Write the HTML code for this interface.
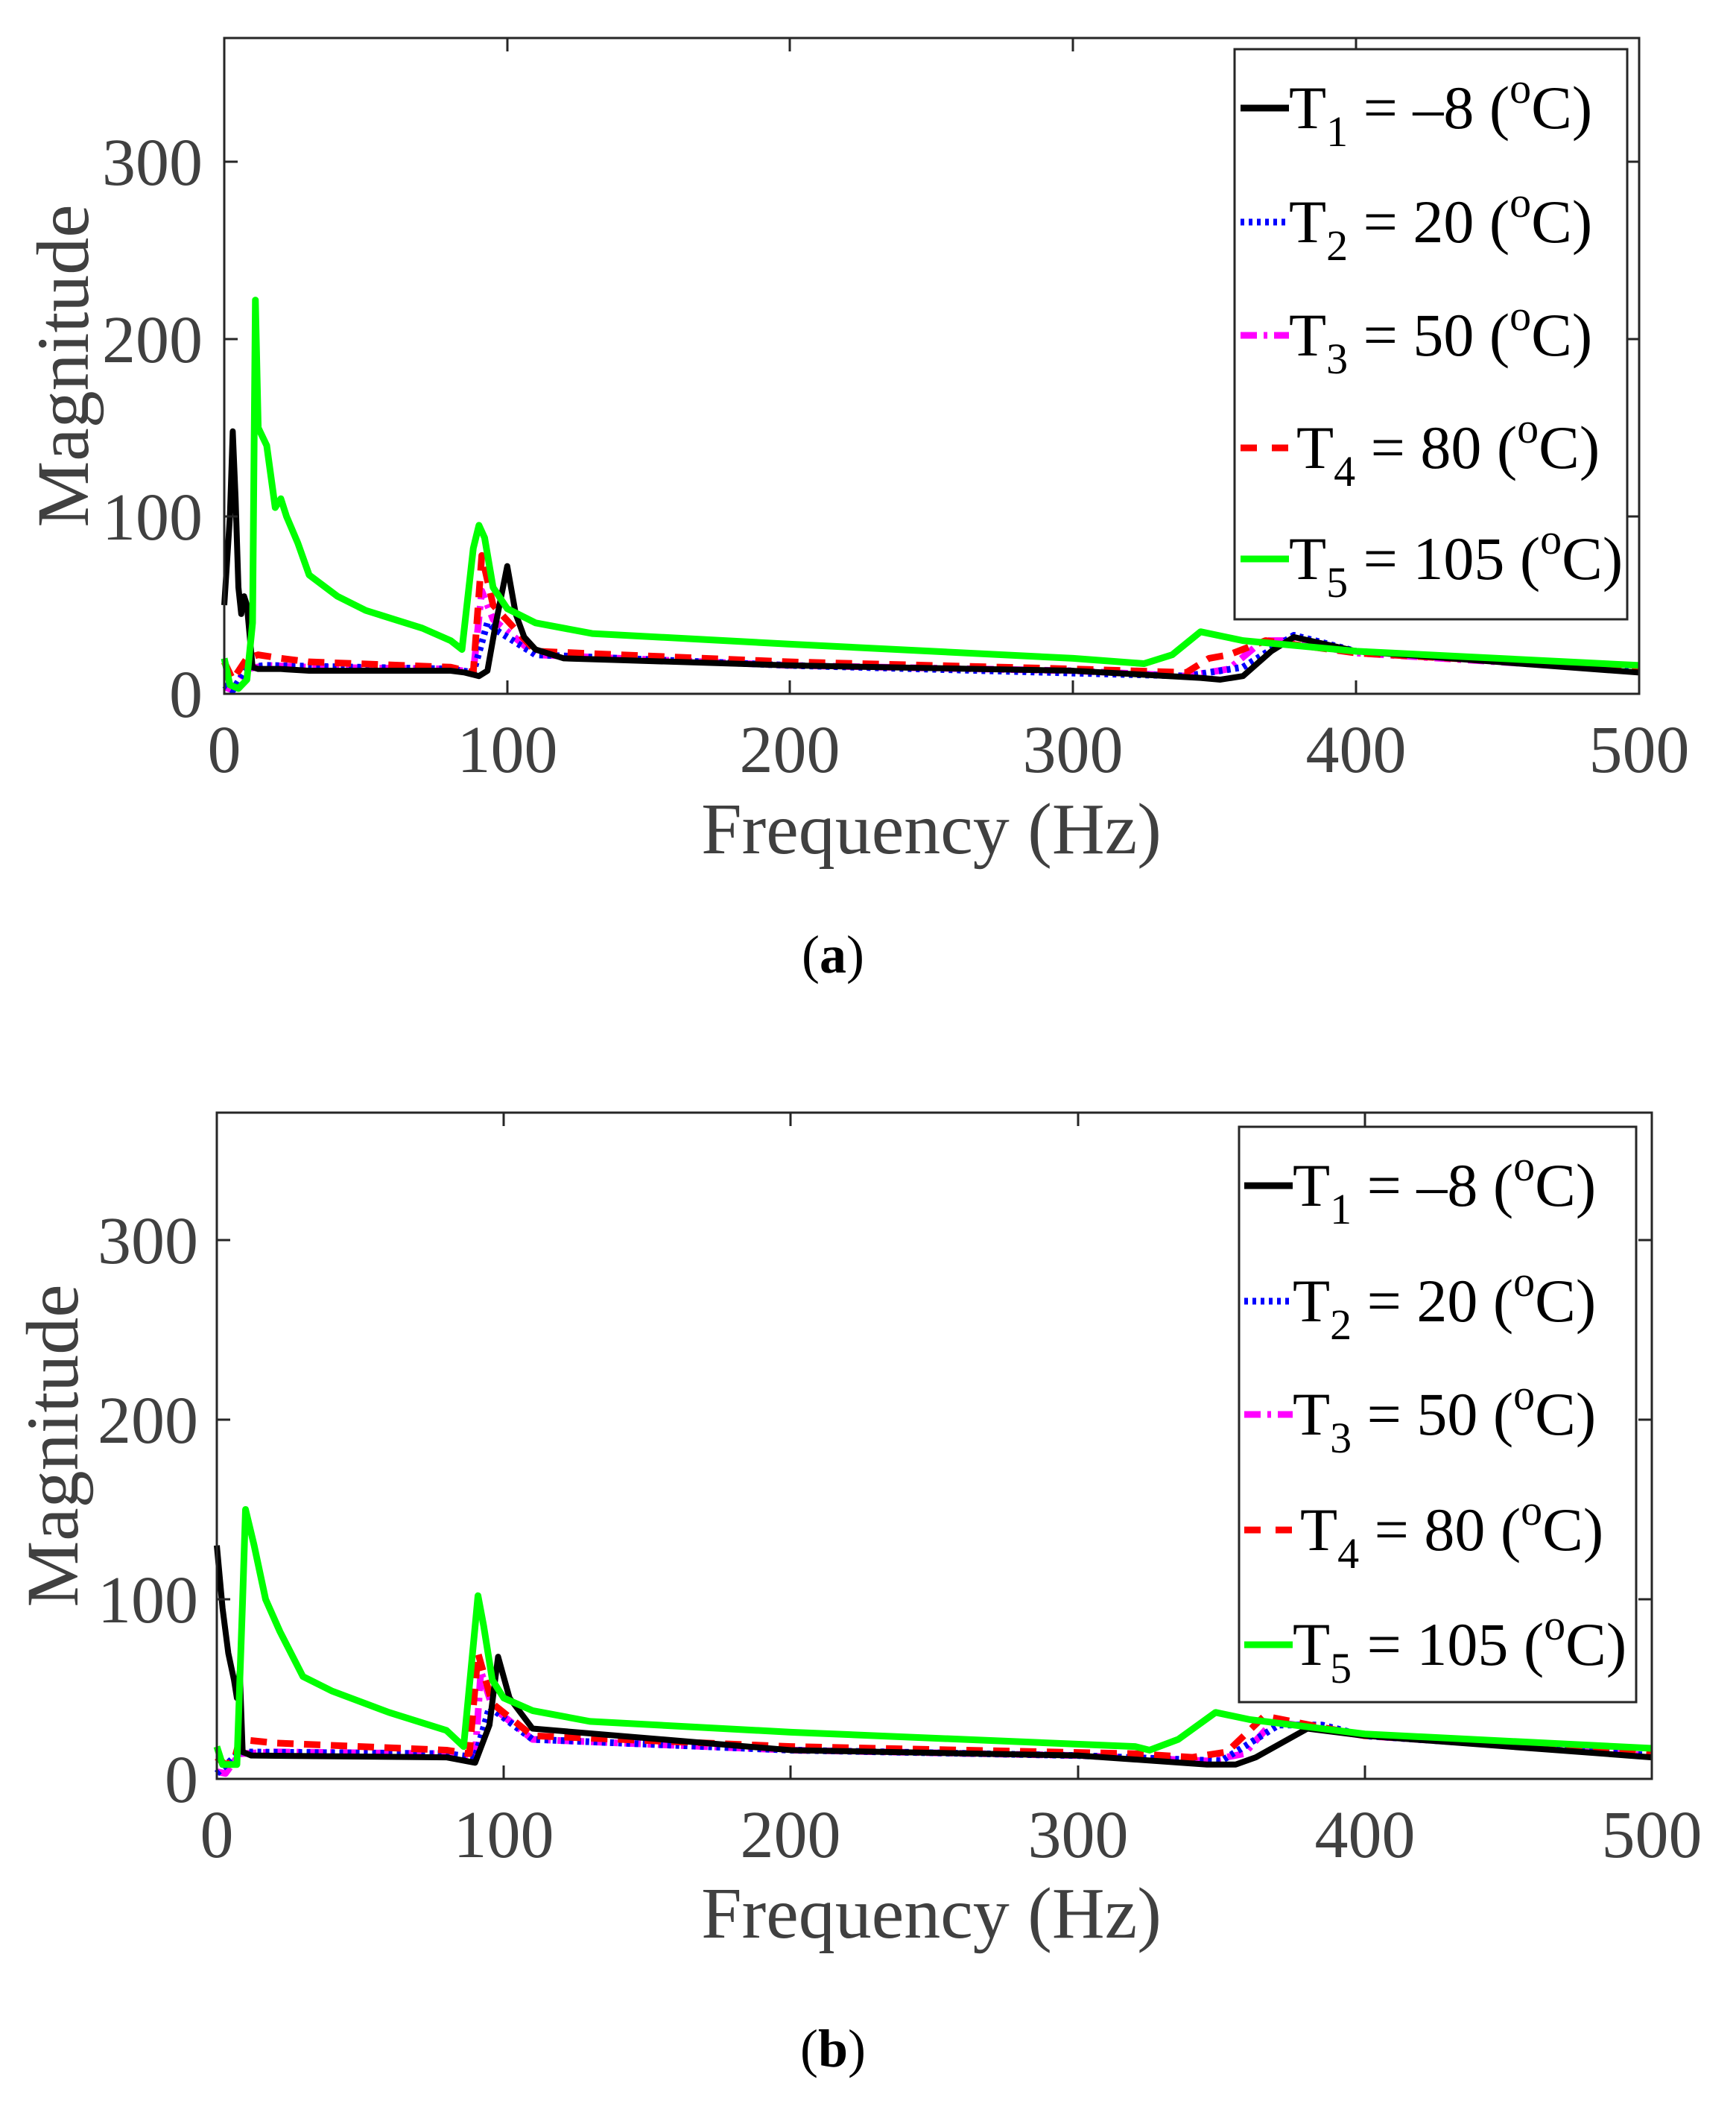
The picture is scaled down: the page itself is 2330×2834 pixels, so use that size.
<!DOCTYPE html>
<html><head><meta charset="utf-8"><style>
html,body{margin:0;padding:0;background:#fff}
svg{display:block}
text{font-family:"Liberation Serif",serif}
</style></head><body>
<svg width="2330" height="2834" viewBox="0 0 2330 2834" xmlns="http://www.w3.org/2000/svg">
<rect width="2330" height="2834" fill="#fff"/>

<!-- ============ PLOT A ============ -->
<g transform="translate(301,931) scale(3.798,-2.38)" fill="none" stroke-linejoin="round">
<polyline vector-effect="non-scaling-stroke" stroke="#ff00ff" stroke-width="9" stroke-dasharray="22 9 5 9" points="0,4 3,2 8,14 15,16 30,15 80,14 88,12 91,58 95,42 110,22 200,16 300,13 340,10 355,14 367,30 375,30 400,23 500,13"/>
<polyline vector-effect="non-scaling-stroke" stroke="#0000ff" stroke-width="9" stroke-dasharray="5 6" points="0,5 3,2 8,15 15,16 80,14 88,12 93,40 97,35 110,22 200,16 340,10 360,15 378,33 400,24 500,14"/>
<polyline vector-effect="non-scaling-stroke" stroke="#ff0000" stroke-width="9" stroke-dasharray="22 14" points="0,18 3,8 8,20 12,22 20,20 30,18 80,15 88,12 91,78 95,50 110,24 200,18 300,14 340,12 348,20 355,22 368,30 400,23 500,14"/>
<polyline vector-effect="non-scaling-stroke" stroke="#000" stroke-width="8" points="0,50 2,100 3,148 4,110 5,60 6,45 7,55 8,50 10,15 12,14 20,14 30,13 80,13 85,12 90,10 93,13 96,40 100,72 103,45 106,32 110,25 120,20 200,16 300,13 345,9 352,8 360,10 370,24 378,32 400,24 500,12"/>
<polyline vector-effect="non-scaling-stroke" stroke="#00ff00" stroke-width="9" points="0,20 2,5 5,3 8,8 10,40 11,222 12,150 15,140 18,105 20,110 22,100 26,85 30,67 40,55 50,47 60,42 70,37 80,30 84,25 88,82 90,95 92,88 95,60 100,48 110,40 130,34 200,28 300,20 325,17 335,22 345,35 360,30 400,24 500,16"/>
</g>
<g stroke="#262626" stroke-width="3" fill="none">
<rect x="301" y="51" width="1899" height="880"/>
<path d="M301,217h18M301,455h18M301,693h18M2200,217h-18M2200,455h-18M2200,693h-18
M681,931v-18M1060,931v-18M1440,931v-18M1820,931v-18M681,51v18M1060,51v18M1440,51v18M1820,51v18"/>
</g>
<g fill="#404040" font-size="90">
<text x="272" y="248" text-anchor="end">300</text>
<text x="272" y="486" text-anchor="end">200</text>
<text x="272" y="724" text-anchor="end">100</text>
<text x="272" y="962" text-anchor="end">0</text>
<text x="301" y="1036" text-anchor="middle">0</text>
<text x="681" y="1036" text-anchor="middle">100</text>
<text x="1060" y="1036" text-anchor="middle">200</text>
<text x="1440" y="1036" text-anchor="middle">300</text>
<text x="1820" y="1036" text-anchor="middle">400</text>
<text x="2200" y="1036" text-anchor="middle">500</text>
<text x="1250" y="1145" text-anchor="middle" font-size="98">Frequency (Hz)</text>
<text transform="translate(118,491) rotate(-90)" text-anchor="middle" font-size="100">Magnitude</text>
</g>
<text x="1118" y="1305" text-anchor="middle" font-size="72" fill="#000">(<tspan font-weight="bold">a</tspan>)</text>
<rect x="1657" y="66" width="527" height="765" fill="#fff" stroke="#262626" stroke-width="3"/>
<g stroke-width="9">
<line x1="1665" y1="145" x2="1730" y2="145" stroke="#000"/>
<line x1="1665" y1="298" x2="1730" y2="298" stroke="#0000ff" stroke-dasharray="5 6"/>
<line x1="1665" y1="450" x2="1730" y2="450" stroke="#ff00ff" stroke-dasharray="22 9 5 9"/>
<line x1="1665" y1="601" x2="1730" y2="601" stroke="#ff0000" stroke-dasharray="22 20"/>
<line x1="1665" y1="750" x2="1730" y2="750" stroke="#00ff00"/>
</g>
<g fill="#000" font-size="82">
<text x="1730" y="172">T<tspan font-size="58" dy="24">1</tspan><tspan dy="-24"> = –8 (</tspan><tspan font-size="58" dy="-34">o</tspan><tspan dy="34">C)</tspan></text>
<text x="1730" y="325">T<tspan font-size="58" dy="24">2</tspan><tspan dy="-24"> = 20 (</tspan><tspan font-size="58" dy="-34">o</tspan><tspan dy="34">C)</tspan></text>
<text x="1730" y="477">T<tspan font-size="58" dy="24">3</tspan><tspan dy="-24"> = 50 (</tspan><tspan font-size="58" dy="-34">o</tspan><tspan dy="34">C)</tspan></text>
<text x="1740" y="628">T<tspan font-size="58" dy="24">4</tspan><tspan dy="-24"> = 80 (</tspan><tspan font-size="58" dy="-34">o</tspan><tspan dy="34">C)</tspan></text>
<text x="1730" y="777">T<tspan font-size="58" dy="24">5</tspan><tspan dy="-24"> = 105 (</tspan><tspan font-size="58" dy="-34">o</tspan><tspan dy="34">C)</tspan></text>
</g>

<!-- ============ PLOT B ============ -->
<g transform="translate(291,2387) scale(3.852,-2.41)" fill="none" stroke-linejoin="round">
<polyline vector-effect="non-scaling-stroke" stroke="#ff00ff" stroke-width="9" stroke-dasharray="22 9 5 9" points="0,4 3,3 8,14 20,15 80,14 90,12 92,60 96,40 110,22 200,16 300,13 345,10 358,14 368,32 380,29 400,24 500,13"/>
<polyline vector-effect="non-scaling-stroke" stroke="#0000ff" stroke-width="9" stroke-dasharray="5 6" points="0,3 8,15 80,14 90,12 95,40 110,22 200,16 300,13 350,10 370,30 385,30 400,24 500,13"/>
<polyline vector-effect="non-scaling-stroke" stroke="#ff0000" stroke-width="9" stroke-dasharray="22 14" points="0,12 3,8 6,10 8,22 20,20 80,16 88,14 91,70 96,42 110,24 200,18 320,14 340,12 352,15 365,35 400,24 500,14"/>
<polyline vector-effect="non-scaling-stroke" stroke="#000" stroke-width="8" points="0,130 2,95 4,70 6,55 7,45 8,60 9,15 12,13 80,12 90,9 95,30 98,68 102,45 110,28 200,16 300,13 345,8 355,8 362,12 380,28 400,24 500,12"/>
<polyline vector-effect="non-scaling-stroke" stroke="#00ff00" stroke-width="9" points="0,18 2,8 7,8 9,100 10,150 13,130 17,100 22,82 30,57 40,49 60,37 80,27 86,18 90,85 91,102 93,85 96,55 100,45 110,38 130,32 200,26 320,18 325,16 335,22 348,37 360,33 400,25 500,17"/>
</g>
<g stroke="#262626" stroke-width="3" fill="none">
<rect x="291" y="1493" width="1926" height="894"/>
<path d="M291,1664h18M291,1905h18M291,2146h18M2217,1664h-18M2217,1905h-18M2217,2146h-18
M676,2387v-18M1061,2387v-18M1447,2387v-18M1832,2387v-18M676,1493v18M1061,1493v18M1447,1493v18M1832,1493v18"/>
</g>
<g fill="#404040" font-size="90">
<text x="266" y="1695" text-anchor="end">300</text>
<text x="266" y="1936" text-anchor="end">200</text>
<text x="266" y="2177" text-anchor="end">100</text>
<text x="266" y="2418" text-anchor="end">0</text>
<text x="291" y="2492" text-anchor="middle">0</text>
<text x="676" y="2492" text-anchor="middle">100</text>
<text x="1061" y="2492" text-anchor="middle">200</text>
<text x="1447" y="2492" text-anchor="middle">300</text>
<text x="1832" y="2492" text-anchor="middle">400</text>
<text x="2217" y="2492" text-anchor="middle">500</text>
<text x="1250" y="2600" text-anchor="middle" font-size="98">Frequency (Hz)</text>
<text transform="translate(104,1940) rotate(-90)" text-anchor="middle" font-size="100">Magnitude</text>
</g>
<text x="1118" y="2773" text-anchor="middle" font-size="72" fill="#000">(<tspan font-weight="bold">b</tspan>)</text>
<rect x="1663" y="1512" width="533" height="772" fill="#fff" stroke="#262626" stroke-width="3"/>
<g stroke-width="9">
<line x1="1670" y1="1591" x2="1735" y2="1591" stroke="#000"/>
<line x1="1670" y1="1746" x2="1735" y2="1746" stroke="#0000ff" stroke-dasharray="5 6"/>
<line x1="1670" y1="1898" x2="1735" y2="1898" stroke="#ff00ff" stroke-dasharray="22 9 5 9"/>
<line x1="1670" y1="2053" x2="1735" y2="2053" stroke="#ff0000" stroke-dasharray="22 20"/>
<line x1="1670" y1="2207" x2="1735" y2="2207" stroke="#00ff00"/>
</g>
<g fill="#000" font-size="82">
<text x="1735" y="1618">T<tspan font-size="58" dy="24">1</tspan><tspan dy="-24"> = –8 (</tspan><tspan font-size="58" dy="-34">o</tspan><tspan dy="34">C)</tspan></text>
<text x="1735" y="1773">T<tspan font-size="58" dy="24">2</tspan><tspan dy="-24"> = 20 (</tspan><tspan font-size="58" dy="-34">o</tspan><tspan dy="34">C)</tspan></text>
<text x="1735" y="1925">T<tspan font-size="58" dy="24">3</tspan><tspan dy="-24"> = 50 (</tspan><tspan font-size="58" dy="-34">o</tspan><tspan dy="34">C)</tspan></text>
<text x="1745" y="2080">T<tspan font-size="58" dy="24">4</tspan><tspan dy="-24"> = 80 (</tspan><tspan font-size="58" dy="-34">o</tspan><tspan dy="34">C)</tspan></text>
<text x="1735" y="2234">T<tspan font-size="58" dy="24">5</tspan><tspan dy="-24"> = 105 (</tspan><tspan font-size="58" dy="-34">o</tspan><tspan dy="34">C)</tspan></text>
</g>
</svg>
</body></html>
